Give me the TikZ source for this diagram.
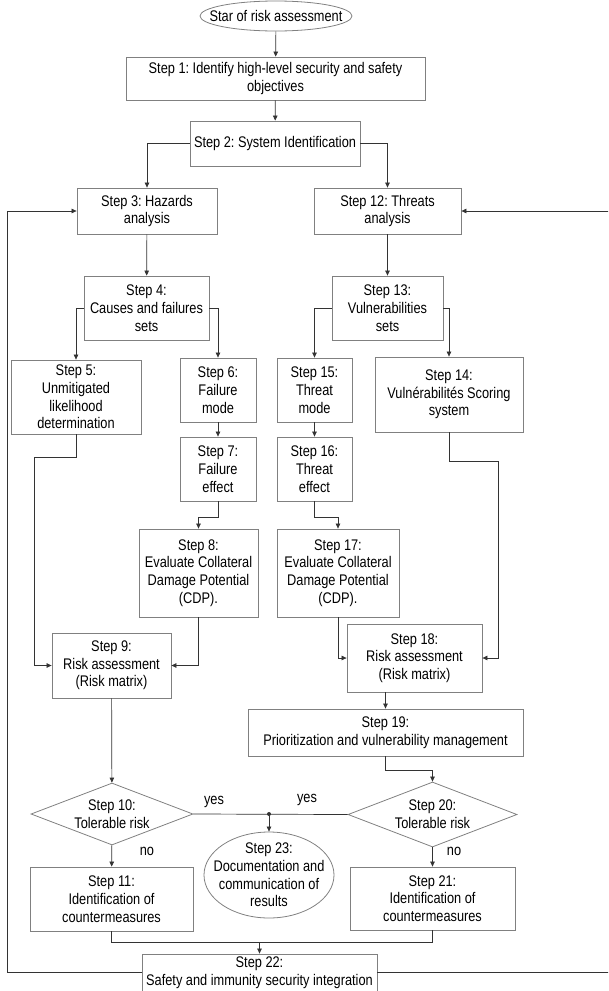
\documentclass[tikz,border=0pt]{standalone}
\usepackage{fontspec}
\setmainfont{Liberation Sans}[FakeStretch=0.83]
\frenchspacing
\usetikzlibrary{arrows.meta,shapes.geometric,calc}

\begin{document}
\begin{tikzpicture}[x=1pt,y=-1pt,
  font=\fontsize{15.4}{17.7}\selectfont,
  blk/.style={draw=black!50, line width=0.8pt, align=center, inner sep=0pt},
  oval/.style={blk, ellipse},
  dia/.style={blk, diamond},
  con/.style={draw=black!80, line width=0.7pt, -{Triangle[length=5pt,width=4.5pt]}},
  ln/.style={draw=black!80, line width=0.7pt}]
\useasboundingbox (0,0) rectangle (608,991);
\clip (0,0) rectangle (608,991);
% start and common part
\node[oval, minimum width=152, minimum height=30, label={center:Star of risk assessment}] (st) at (276,16) {};
\node[blk, minimum width=299, minimum height=43] (s1) at (275.5,78.5) {Step 1: Identify high-level security and safety\\objectives};
\node[blk, minimum width=170, minimum height=45] (s2) at (275,143.5) {Step 2: System Identification};
% safety branch
\node[blk, minimum width=140, minimum height=46] (s3) at (147,211) {Step 3: Hazards\\analysis};
\node[blk, minimum width=125, minimum height=64] (s4) at (146.5,308) {Step 4:\\Causes and failures\\sets};
\node[blk, minimum width=130, minimum height=74] (s5) at (76,397) {Step 5:\\Unmitigated\\likelihood\\determination};
\node[blk, minimum width=76, minimum height=64] (s6) at (218,390) {Step 6:\\Failure\\mode};
\node[blk, minimum width=76, minimum height=64] (s7) at (218,469) {Step 7:\\Failure\\effect};
\node[blk, minimum width=119, minimum height=88] (s8) at (198.5,573) {Step 8:\\Evaluate Collateral\\Damage Potential\\(CDP).};
\node[blk, minimum width=119, minimum height=65] (s9) at (111.5,665.5) {Step 9:\\Risk assessment\\(Risk matrix)};
\node[dia, minimum width=162, minimum height=62, label={[align=center]center:Step 10:\\Tolerable risk}] (s10) at (112,814) {};
\node[blk, minimum width=163, minimum height=64] (s11) at (111.5,899) {Step 11:\\Identification of\\countermeasures};
% security branch
\node[blk, minimum width=147, minimum height=46] (s12) at (387.5,211) {Step 12: Threats\\analysis};
\node[blk, minimum width=111, minimum height=64] (s13) at (387.5,308) {Step 13:\\Vulnerabilities\\sets};
\node[blk, minimum width=148, minimum height=75] (s14) at (449,394.5) {Step 14:\\Vulnérabilités Scoring\\system};
\node[blk, minimum width=75, minimum height=64] (s15) at (314.5,390) {Step 15:\\Threat\\mode};
\node[blk, minimum width=75, minimum height=64] (s16) at (314.5,469) {Step 16:\\Threat\\effect};
\node[blk, minimum width=122, minimum height=88] (s17) at (338,573) {Step 17:\\Evaluate Collateral\\Damage Potential\\(CDP).};
\node[blk, minimum width=135, minimum height=68] (s18) at (414.5,658) {Step 18:\\Risk assessment\\(Risk matrix)};
\node[blk, minimum width=275, minimum height=47] (s19) at (385.5,732.5) {Step 19:\\Prioritization and vulnerability management};
\node[dia, minimum width=169, minimum height=65, label={[align=center]center:Step 20:\\Tolerable risk}] (s20) at (432.5,814.5) {};
\node[blk, minimum width=165, minimum height=63] (s21) at (432.5,898.5) {Step 21:\\Identification of\\countermeasures};
% end part
\node[oval, minimum width=130, minimum height=86, label={[align=center]center:Step 23:\\Documentation and\\communication of\\results}] (s23) at (269,875) {};
\node[blk, minimum width=235, minimum height=37] (s22) at (259.5,972.5) {Step 22:\\Safety and immunity security integration};
\coordinate (l5) at (34,457);
\coordinate (r14) at (498,461);
\coordinate (m) at (259.5,942);
\coordinate (fl) at (7,211);
\coordinate (fr) at (612,211);
\coordinate (j) at (s23.north |- s10.east);
% connectors
\draw[con] (st) -- (s1);
\draw[con] (s1) -- (s2);
\draw[con] (s2.west) -| (s3.north);
\draw[con] (s2.east) -| (s12.north);
\draw[con] (s3) -- (s4);
\draw[con] (s12) -- (s13);
\draw[con] (s4.west) -| (s5.north);
\draw[con] (s4.east) -| (s6.north);
\draw[con] (s13.west) -| (s15.north);
\draw[con] (s13.east) -| (s14.north);
\draw[con] (s6) -- (s7);
\draw[con] (s15) -- (s16);
\draw[con] (s7.south) -- ++(0,16) -| (s8.north);
\draw[con] (s16.south) -- ++(0,16) -| (s17.north);
\draw[con] (s5.south) |- (l5) |- (s9.west);
\draw[con] (s8.south) |- (s9.east);
\draw[con] (s17.south) |- (s18.west);
\draw[con] (s14.south) |- (r14) |- (s18.east);
\draw[con] (s9) -- (s10);
\draw[con] (s19.north |- s18.south) -- (s19.north);
\draw[con] (s19.south) -- ++(0,14) -| (s20.north);
\draw[ln] (s10.east) -- (s20.west);
\fill[black!80] (j) circle (2);
\draw[con] (j) -- (s23.north);
\draw[con] (s10) -- (s11);
\draw[con] (s20) -- (s21);
\draw[ln] (s11.south) |- (m) -| (s21.south);
\draw[con] (m) -- (s22.north);
\draw[con] (s22.west) -| (fl) -- (s3.west);
\draw[con] (s22.east) -| (fr) -- (s12.east);
% labels
\node (y1) at (214,802) {yes};
\node (y2) at (307,800) {yes};
\node (n1) at (147,851) {no};
\node (n2) at (454,851) {no};
\end{tikzpicture}
\end{document}
